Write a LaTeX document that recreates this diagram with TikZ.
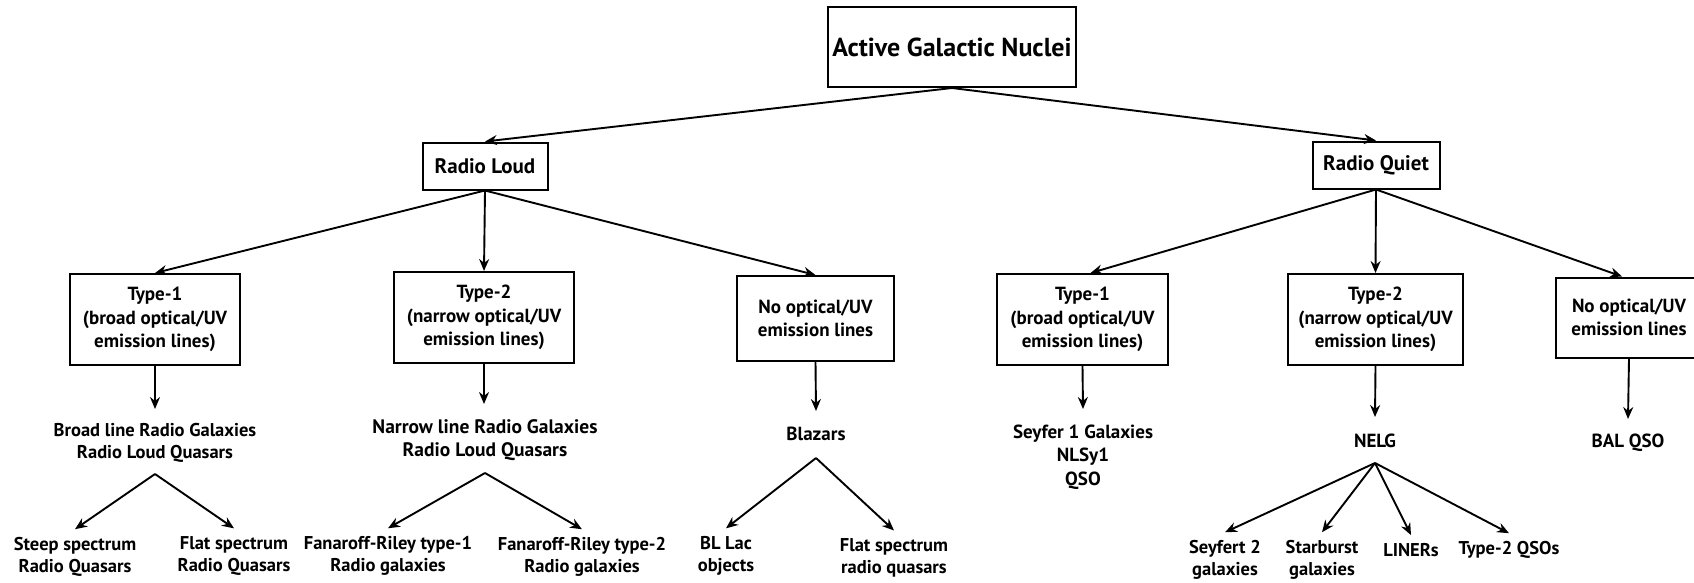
\documentclass[tikz,border=0pt]{standalone}
\usepackage{fontspec}
\setmainfont{PT Sans}
\usetikzlibrary{positioning,arrows.meta}

\newcommand{\topfont}{\fontsize{26}{31}\selectfont\bfseries}
\newcommand{\radiofont}{\fontsize{21}{25}\selectfont\bfseries}
\newcommand{\boxfont}{\fontsize{19}{23.5}\selectfont\bfseries}
\newcommand{\leaffont}{\fontsize{18.5}{22}\selectfont\bfseries}

\tikzset{
  agnbox/.style={draw=black,line width=2pt,align=center,inner sep=2pt,font=\boxfont},
  txt/.style={align=center,inner sep=2pt,font=\boxfont},
  leaf/.style={align=center,inner sep=8pt,font=\leaffont},
  arr/.style={-{Stealth[length=12pt,width=10pt,inset=4pt]},line width=1.9pt},
}

\begin{document}
\begin{tikzpicture}[x=1pt,y=-1pt]
\useasboundingbox (0,0) rectangle (1694,582);

% Top levels
\node [agnbox,font=\topfont,minimum width=248,minimum height=80] (agn) at (952,47) {Active Galactic Nuclei};
\node [agnbox,font=\radiofont,minimum width=125,minimum height=47] (rl) at (485,166) {Radio Loud};
\node [agnbox,font=\radiofont,minimum width=127,minimum height=47] (rq) at (1376,165) {Radio Quiet};

% Radio loud branch
\node [agnbox,minimum width=170,minimum height=91] (rlone) at (155,319.5) {Type-1\\(broad optical/UV\\emission lines)};
\node [agnbox,minimum width=180,minimum height=91] (rltwo) at (484,317.5) {Type-2\\(narrow optical/UV\\emission lines)};
\node [agnbox,minimum width=157,minimum height=85] (rlnone) at (815.5,318.5) {No optical/UV\\emission lines};

% Radio quiet branch
\node [agnbox,minimum width=171,minimum height=91] (rqone) at (1082.5,319.5) {Type-1\\(broad optical/UV\\emission lines)};
\node [agnbox,minimum width=175,minimum height=91] (rqtwo) at (1375.5,319.5) {Type-2\\(narrow optical/UV\\emission lines)};
\node [agnbox,minimum width=146,minimum height=80] (rqnone) at (1629,317.5) {No optical/UV\\emission lines};

% Classes
\node [txt,font=\leaffont] (blrg) at (155,443) {Broad line Radio Galaxies\\Radio Loud Quasars};
\node [txt,font={\fontsize{19.5}{23}\selectfont\bfseries}] (nlrg) at (485,440) {Narrow line Radio Galaxies\\Radio Loud Quasars};
\node [txt] (blz) at (816,434) {Blazars};
\node [txt] (sey) at (1083,457) {Seyfer 1 Galaxies\\NLSy1\\QSO};
\node [txt] (nelg) at (1375,441) {NELG};
\node [txt] (bal) at (1628,443) {BAL QSO};

% Leaves
\node [leaf] (steep) at (75,557) {Steep spectrum\\Radio Quasars};
\node [leaf] (flatrq) at (234,556) {Flat spectrum\\Radio Quasars};
\node [leaf] (fri) at (388,556) {Fanaroff-Riley type-1\\Radio galaxies};
\node [leaf] (frii) at (582,557) {Fanaroff-Riley type-2\\Radio galaxies};
\node [leaf] (bllac) at (726,556) {BL Lac\\objects};
\node [leaf] (fsrq) at (894,558) {Flat spectrum\\radio quasars};
\node [leaf] (seytwo) at (1225,560) {Seyfert 2\\galaxies};
\node [leaf] (sburst) at (1322,560) {Starburst\\galaxies};
\node [leaf] (liner) at (1411,550) {LINERs};
\node [leaf] (qsotwo) at (1509,550) {Type-2 QSOs};

% Fork points
\coordinate (blrgfork) at (155,474);
\coordinate (nlrgfork) at (485,473);
\coordinate (blzfork) at (816,458);
\coordinate (nelgfork) at (1375,463);

% Connectors
\draw [arr] (agn.south) -- (rl.north);
\draw [arr] (agn.south) -- (rq.north);
\draw [arr] (rl.south) -- (rlone.north);
\draw [arr] (rl.south) -- (rltwo.north);
\draw [arr] (rl.south) -- (rlnone.north);
\draw [arr] (rq.south) -- ([xshift=8]rqone.north);
\draw [arr] (rq.south) -- (rqtwo.north);
\draw [arr] (rq.south) -- ([xshift=-7]rqnone.north);

\draw [arr] (rlone.south) -- (155,409);
\draw [arr] (rltwo.south) -- (484,404);
\draw [arr] (rlnone.south) -- (816,411);
\draw [arr] (rqone.south) -- (1083,409);
\draw [arr] (rqtwo.south) -- (1375,417);
\draw [arr] (rqnone.south) -- (1628,419);

\draw [arr] (blrgfork) -- (steep.north);
\draw [arr] (blrgfork) -- (flatrq.north);
\draw [arr] (nlrgfork) -- (fri.north);
\draw [arr] (nlrgfork) -- (frii.north);
\draw [arr] (blzfork) -- (bllac.north);
\draw [arr] (blzfork) -- (fsrq.north);
\draw [arr] (nelgfork) -- (seytwo.north);
\draw [arr] (nelgfork) -- (sburst.north);
\draw [arr] (nelgfork) -- (liner.north);
\draw [arr] (nelgfork) -- (qsotwo.north);

\end{tikzpicture}
\end{document}
